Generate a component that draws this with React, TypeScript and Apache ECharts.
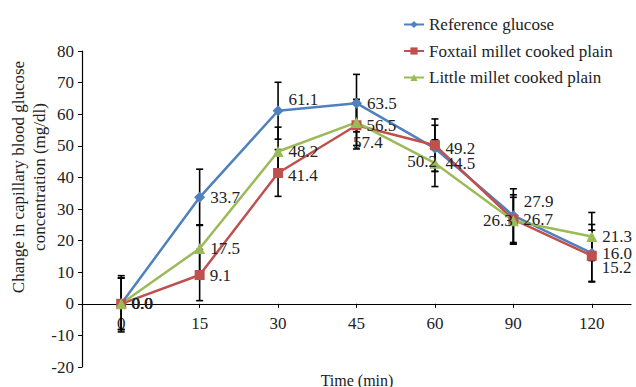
import React, { useEffect, useRef } from "react";
import * as echarts from "echarts";

const timeLabels = ["0", "15", "30", "45", "60", "90", "120"];
const referenceGlucose = [0, 33.7, 61.1, 63.5, 49.2, 27.9, 16.0];
const foxtailMillet = [0, 9.1, 41.4, 56.5, 50.2, 26.7, 15.2];
const littleMillet = [0, 17.5, 48.2, 57.4, 44.5, 26.3, 21.3];
const referenceErr = [8.9, 8.9, 9.0, 9.1, 7.3, 8.5, 9.1];
const foxtailErr = [8.2, 8.1, 7.4, 7.5, 8.3, 7.8, 8.1];
const littleErr = [8.1, 7.5, 7.7, 7.3, 7.4, 7.4, 7.6];
const yTicks = { min: -20, max: 80, interval: 10 };
const seriesNames = [
  "Reference glucose",
  "Foxtail millet cooked plain",
  "Little millet cooked plain",
];

// label placement (style only)
const refLabelStyle: any[] = [
  {}, {}, { offset: [0, -11] }, {}, {}, { offset: [0, -14] }, {},
];
const foxLabelStyle: any[] = [
  {}, {}, { offset: [0, 3] }, {}, { position: "left", offset: [12, 16] }, {}, { offset: [0, 12] },
];
const littleLabelStyle: any[] = [
  {}, {}, {}, { offset: [-14, 20] }, {}, { position: "left", offset: [10, 0] }, {},
];

const FONT = "Liberation Serif";
const TEXT = "#222";

function lineSeries(name: string, values: number[], color: string, symbol: string, size: number, labelStyles: any[]) {
  return {
    name,
    type: "line",
    z: 3,
    data: values.map((v, i) => ({
      value: v,
      label: labelStyles[i] && Object.keys(labelStyles[i]).length ? { show: true, ...labelStyles[i] } : undefined,
    })),
    symbol,
    symbolSize: size,
    lineStyle: { color, width: 2.5 },
    itemStyle: { color },
    label: {
      show: true,
      position: "right",
      distance: 5,
      fontSize: 17,
      fontFamily: FONT,
      color: TEXT,
      overflow: "none",
      formatter: (p: any) => Number(p.value).toFixed(1),
    },
  };
}

function errorSeries(name: string, values: number[], errs: number[]) {
  return {
    name,
    type: "custom",
    z: 2,
    silent: true,
    data: values.map((v, i) => [i, v, errs[i]]),
    encode: { x: 0, y: 1 },
    renderItem: (params: any, api: any) => {
      const x = api.value(0);
      const y = api.value(1);
      const e = api.value(2);
      const top = api.coord([x, y + e]);
      const bot = api.coord([x, y - e]);
      const half = 3.5;
      const style = { stroke: "#000", lineWidth: 1.6 };
      return {
        type: "group",
        children: [
          { type: "line", shape: { x1: top[0], y1: top[1], x2: bot[0], y2: bot[1] }, style },
          { type: "line", shape: { x1: top[0] - half, y1: top[1], x2: top[0] + half, y2: top[1] }, style },
          { type: "line", shape: { x1: bot[0] - half, y1: bot[1], x2: bot[0] + half, y2: bot[1] }, style },
        ],
      };
    },
  };
}

export default function App() {
  const ref = useRef<HTMLDivElement>(null);
  useEffect(() => {
    if (!ref.current) return;
    const chart = echarts.init(ref.current, undefined, { renderer: "svg" });
    chart.setOption({
      animation: false,
      backgroundColor: "#fff",
      textStyle: { fontFamily: FONT, color: TEXT },
      grid: { left: 82, right: 5, top: 51, bottom: 20, containLabel: false, outerBoundsMode: "none" },
      legend: {
        orient: "vertical",
        left: 398,
        top: 11,
        itemWidth: 20,
        itemHeight: 9,
        itemGap: 9.5,
        selectedMode: false,
        data: seriesNames,
        textStyle: { fontSize: 17, fontFamily: FONT, color: TEXT },
      },
      xAxis: {
        type: "category",
        data: timeLabels,
        boundaryGap: true,
        axisLine: { onZero: true, lineStyle: { color: "#000", width: 1.2 } },
        axisTick: { show: true, alignWithLabel: true, length: 4, lineStyle: { color: "#000" } },
        axisLabel: { fontSize: 17, fontFamily: FONT, color: TEXT, margin: -52 },
        splitLine: { show: false },
      },
      yAxis: {
        type: "value",
        min: yTicks.min,
        max: yTicks.max,
        interval: yTicks.interval,
        axisLine: { show: true, lineStyle: { color: "#000", width: 1.2 } },
        axisTick: { show: true, length: 4, lineStyle: { color: "#000" } },
        axisLabel: { fontSize: 17, fontFamily: FONT, color: TEXT, margin: 8 },
        splitLine: { show: false },
      },
      graphic: [
        {
          type: "text",
          x: 29,
          y: 177,
          rotation: Math.PI / 2,
          style: {
            text: "Change in capillary blood glucose\nconcentration (mg/dl)",
            fontSize: 17,
            fontFamily: FONT,
            fill: TEXT,
            align: "center",
            verticalAlign: "middle",
            lineHeight: 21,
          },
        },
        {
          type: "text",
          x: 357,
          y: 380,
          style: {
            text: "Time (min)",
            fontSize: 16,
            fontFamily: FONT,
            fill: TEXT,
            align: "center",
            verticalAlign: "middle",
          },
        },
      ],
      series: [
        errorSeries("errRef", referenceGlucose, referenceErr),
        errorSeries("errFox", foxtailMillet, foxtailErr),
        errorSeries("errLittle", littleMillet, littleErr),
        lineSeries(seriesNames[0], referenceGlucose, "#4F81BD", "diamond", 11, refLabelStyle),
        lineSeries(seriesNames[1], foxtailMillet, "#C0504D", "rect", 10, foxLabelStyle),
        lineSeries(seriesNames[2], littleMillet, "#9BBB59", "triangle", 11, littleLabelStyle),
      ],
    });
    return () => chart.dispose();
  }, []);
  return (
    <div
      ref={ref}
      style={{ position: "absolute", left: 0, top: 0, width: 636, height: 387 }}
    />
  );
}
